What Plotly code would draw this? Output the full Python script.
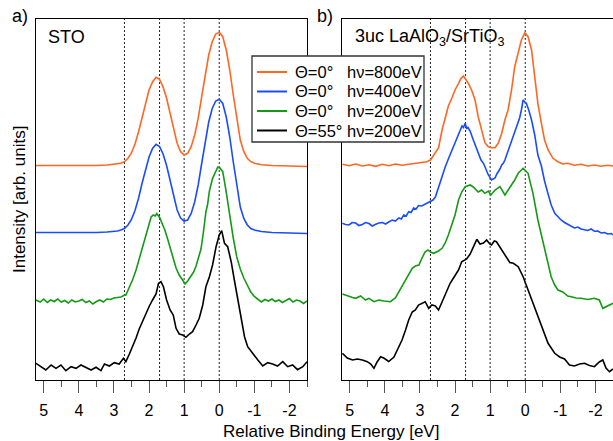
import plotly.graph_objects as go

# ---------------- data ----------------
# Panel a) STO
sto_800_E = [5.22, 4.5, 4.0, 3.5, 3.2, 3.0, 2.9, 2.8, 2.7, 2.6, 2.5, 2.4, 2.3, 2.2, 2.1, 2.0, 1.9, 1.8, 1.7, 1.6,
             1.5, 1.4, 1.3, 1.2, 1.1, 1.0, 0.9, 0.8, 0.7, 0.6, 0.5, 0.4, 0.3, 0.2, 0.1, 0.0, -0.1, -0.2, -0.3, -0.4,
             -0.5, -0.6, -0.7, -0.8, -0.9, -1.0, -1.2, -1.5, -2.0, -2.5]
sto_800_I = [214.5, 214.5, 214, 214.5, 215, 215.5, 216, 216.7, 218.3, 221.7, 227, 236, 248, 263, 277, 290, 298, 302.7,
             300.7, 293, 281.7, 266.7, 250, 236.7, 228.3, 225, 226.7, 233.3, 245, 261.7, 283.3, 305, 325, 338.3, 346,
             347.7, 343.3, 330, 310, 285, 260, 240, 228.3, 221.7, 218.3, 216.7, 215.3, 214.5, 214, 213.5]

sto_400_E = [5.22, 4.5, 4.0, 3.5, 3.2, 3.0, 2.9, 2.8, 2.7, 2.6, 2.5, 2.4, 2.3, 2.2, 2.1, 2.0, 1.9, 1.8, 1.7, 1.6,
             1.5, 1.4, 1.3, 1.2, 1.1, 1.0, 0.9, 0.8, 0.7, 0.6, 0.5, 0.4, 0.3, 0.2, 0.1, 0.0, -0.1, -0.2, -0.3, -0.4,
             -0.5, -0.6, -0.7, -0.8, -0.9, -1.0, -1.2, -1.5, -2.0, -2.5]
sto_400_I = [147.5, 147.5, 147, 147.5, 148, 148.5, 149, 150, 151.5, 155, 160.5, 169.5, 181.5, 196.5, 210.5, 223, 231.5,
             235.7, 233.5, 226, 214.5, 199.5, 183, 170, 162, 159, 160, 166.5, 178, 195, 216.5, 238, 258, 271.5, 279,
             280.7, 276.5, 263, 243, 218, 193, 173, 161.5, 155, 151.5, 150, 148.5, 147.5, 147, 146.5]

sto_200_E = [5.22, 5.1, 5.0, 4.9, 4.8, 4.7, 4.6, 4.5, 4.4, 4.3, 4.2, 4.1, 4.0, 3.9, 3.8, 3.7, 3.6, 3.5, 3.4, 3.3,
             3.2, 3.1, 3.0, 2.9, 2.8, 2.72, 2.66, 2.56, 2.47, 2.37, 2.28, 2.18, 2.09, 1.99, 1.94, 1.88, 1.82, 1.78,
             1.73, 1.69, 1.61, 1.55, 1.47, 1.40, 1.33, 1.23, 1.14, 1.04, 0.97, 0.90, 0.80, 0.73, 0.66, 0.59, 0.52,
             0.45, 0.38, 0.33, 0.28, 0.19, 0.09, 0.04, -0.02, -0.10, -0.19, -0.3, -0.4, -0.5, -0.6, -0.7, -0.8, -0.9,
             -1.0, -1.1, -1.2, -1.3, -1.4, -1.5, -1.6, -1.7, -1.8, -1.9, -2.0, -2.1, -2.2, -2.3, -2.4, -2.5]
sto_200_I = [80, 78, 81, 77.5, 80, 78.5, 81, 78, 79.5, 77, 80, 78, 79, 80.5, 77.5, 79, 76, 78.5, 80, 78,
             81, 80.5, 82, 82.5, 83, 84.5, 85, 93, 100, 110, 121, 134, 147, 157, 163, 165, 164, 166.5,
             164, 162, 155, 150, 141, 132, 123, 112, 105, 100, 96, 99, 105, 108, 114, 122, 131,
             148, 168, 176, 189, 201.7, 208.3, 213, 212, 208.3, 190, 164, 142, 123, 111, 102, 95, 88,
             83.5, 81, 78, 80.5, 79, 81, 78.5, 80, 77.5, 79.5, 81.5, 78, 80, 79, 76.5, 79]

sto_55_E = [5.22, 5.08, 4.94, 4.79, 4.65, 4.51, 4.37, 4.22, 4.08, 3.94, 3.80, 3.65, 3.51, 3.37, 3.27, 3.13, 2.99,
            2.85, 2.73, 2.66, 2.56, 2.47, 2.37, 2.28, 2.18, 2.09, 1.99, 1.90, 1.80, 1.73, 1.66, 1.59, 1.50, 1.40,
            1.31, 1.23, 1.14, 1.04, 0.95, 0.85, 0.76, 0.66, 0.57, 0.47, 0.38, 0.28, 0.19, 0.09, 0.00, -0.07, -0.15,
            -0.24, -0.34, -0.43, -0.53, -0.62, -0.72, -0.81, -0.91, -1.00, -1.10, -1.24, -1.38, -1.52, -1.66, -1.81,
            -1.95, -2.09, -2.23, -2.38, -2.50]
sto_55_I = [16.7, 13.3, 10, 15, 11.7, 15, 9.3, 13.3, 11.7, 15, 12.7, 10, 12.7, 9.3, 16, 14, 17.3,
            16, 21.7, 18.3, 26, 33, 42, 51, 59, 67, 74, 80, 86, 96.7, 98.3, 93.3, 80, 70,
            65, 51.7, 46, 45, 42.7, 46, 48.3, 55, 61.7, 75, 93.3, 103.3, 115, 133.3, 145, 149.3, 136.7,
            133.3, 118.3, 100, 80, 60, 43.3, 33.3, 28.3, 25, 20, 14, 17.3, 16, 14, 18.3,
            13.3, 15, 10.3, 13.3, 18.3]

# Panel b) 3uc LaAlO3/SrTiO3
lao_800_E = [5.21, 5.02, 4.83, 4.64, 4.45, 4.26, 4.07, 3.89, 3.70, 3.51, 3.32, 3.13, 2.94, 2.80, 2.70, 2.56, 2.47,
             2.37, 2.28, 2.19, 2.09, 2.00, 1.90, 1.83, 1.76, 1.69, 1.62, 1.52, 1.43, 1.34, 1.24, 1.15, 1.05, 0.96,
             0.86, 0.77, 0.67, 0.58, 0.49, 0.39, 0.30, 0.20, 0.11, 0.01, -0.08, -0.18, -0.27, -0.36, -0.46, -0.55,
             -0.65, -0.79, -0.93, -1.07, -1.21, -1.40, -1.59, -1.78, -1.97, -2.16, -2.35, -2.50]
lao_800_I = [215.7, 214.3, 216, 214, 215.3, 213.7, 215.7, 214.3, 216, 214.7, 215.7, 216.7, 217.3, 218.3, 220, 226.7, 232,
             250, 262, 274, 282, 290, 296.7, 301.7, 304, 300, 296.7, 289.3, 280, 263.3, 250, 237.3, 233.3, 232.3,
             232.3, 236.7, 246.7, 260, 270, 290, 313.3, 326.7, 340, 347.3, 343.3, 330, 303.3, 276.7, 256.7, 240,
             230, 221.7, 218.3, 216, 216.7, 214.7, 215.7, 214, 215, 213.7, 214.7, 214]

lao_400_E = [5.21, 5.12, 5.02, 4.93, 4.83, 4.74, 4.64, 4.55, 4.45, 4.36, 4.26, 4.17, 4.07, 3.98, 3.89, 3.79, 3.70,
             3.60, 3.53, 3.46, 3.39, 3.32, 3.25, 3.18, 3.11, 3.04, 2.95, 2.85, 2.78, 2.70, 2.63, 2.56, 2.47, 2.37,
             2.28, 2.19, 2.09, 1.95, 1.85, 1.80, 1.76, 1.71, 1.67, 1.64, 1.57, 1.48, 1.41, 1.34, 1.26, 1.19, 1.12,
             1.05, 0.96, 0.91, 0.86, 0.81, 0.77, 0.72, 0.67, 0.62, 0.58, 0.53, 0.49, 0.44, 0.39, 0.32, 0.25, 0.16,
             0.11, 0.06, 0.01, -0.03, -0.10, -0.18, -0.27, -0.36, -0.46, -0.55, -0.65, -0.74, -0.84, -0.93, -1.02,
             -1.12, -1.21, -1.30, -1.40, -1.50, -1.59, -1.69, -1.78, -1.88, -1.97, -2.07, -2.16, -2.26, -2.35, -2.45,
             -2.50]
lao_400_I = [156.7, 155.5, 155, 157.5, 157, 154.5, 155.5, 157.5, 156.5, 154, 155.7, 157, 157.5, 156, 158, 160, 159,
             162, 161, 165, 164, 168.3, 167.5, 172, 171, 174.5, 174, 176, 177.5, 178.5, 180, 183, 193, 202,
             213, 221, 230, 243, 250, 254, 252.5, 256.7, 251, 253, 249, 240, 234, 226.7, 220, 216.7, 210,
             205, 200, 201, 202, 206, 208, 211, 215, 217, 220, 225, 230, 233, 240, 247, 253, 262,
             270, 280, 278, 276.7, 270, 260, 245, 225, 214, 199, 186, 175, 166.7, 163, 160,
             157.5, 156, 154, 152, 153, 151, 150.5, 149.5, 151, 148.7, 149, 147, 147.5, 146, 146.5,
             145]

lao_200_E = [5.21, 5.07, 4.92, 4.83, 4.69, 4.55, 4.45, 4.31, 4.17, 4.03, 3.84, 3.70, 3.60, 3.51, 3.41, 3.32, 3.22,
             3.13, 3.03, 2.94, 2.85, 2.77, 2.70, 2.61, 2.47, 2.37, 2.28, 2.19, 2.09, 2.00, 1.90, 1.81, 1.71, 1.57,
             1.48, 1.34, 1.24, 1.15, 1.05, 0.98, 0.86, 0.72, 0.58, 0.44, 0.30, 0.20, 0.06, -0.08, -0.22, -0.36,
             -0.46, -0.60, -0.74, -0.84, -0.93, -1.07, -1.21, -1.31, -1.45, -1.59, -1.78, -1.97, -2.11, -2.21, -2.35,
             -2.50]
lao_200_I = [86, 84, 82.5, 81.7, 84, 80, 81.7, 78.3, 80, 79, 78.3, 82, 88.3, 93, 100, 106, 111.7,
             114, 115, 122, 128.3, 130, 128, 126.7, 129, 131.7, 137, 145, 155, 165, 180, 188, 193.3, 195,
             193, 188, 190, 186.7, 189, 185, 190, 193.3, 185, 192, 200, 206.7, 211.7, 206.7, 186.7, 160,
             145, 126.7, 103, 95, 90, 88, 84, 83.3, 82, 81.7, 80.5, 81.7, 80, 71.7, 74,
             76.7]

lao_55_E = [5.21, 5.07, 4.92, 4.78, 4.64, 4.50, 4.40, 4.31, 4.22, 4.12, 4.03, 3.89, 3.74, 3.60, 3.51, 3.41, 3.32,
            3.22, 3.13, 3.04, 2.94, 2.85, 2.75, 2.66, 2.56, 2.47, 2.37, 2.28, 2.14, 1.99, 1.90, 1.81, 1.67, 1.57,
            1.48, 1.38, 1.29, 1.19, 1.10, 1.01, 0.96, 0.88, 0.82, 0.72, 0.63, 0.53, 0.44, 0.34, 0.20, 0.06, -0.08,
            -0.27, -0.46, -0.65, -0.84, -0.98, -1.12, -1.26, -1.40, -1.55, -1.69, -1.83, -1.97, -2.11, -2.21, -2.30,
            -2.40, -2.50]
lao_55_I = [26.7, 22, 20, 21, 20, 18.3, 16, 11.7, 18, 23.3, 22, 18.5, 23, 33, 40, 50, 60,
            68, 70, 75, 77, 78.3, 71.7, 75, 74, 70, 78, 86, 96.7, 105, 110, 118.3, 121, 126,
            133.3, 140.7, 136, 137, 140, 136, 135, 139, 138.3, 133, 127, 121.7, 117.5, 116.7, 113.3, 103.3, 90,
            73.3, 53.3, 36.7, 26.7, 23, 21, 15, 14, 16, 16.7, 14.5, 13.3, 18, 20, 12,
            8.3, 11]

legend_angle = ["Θ=0°", "Θ=0°", "Θ=0°", "Θ=55°"]
legend_energy = ["hν=800eV", "hν=400eV", "hν=200eV", "hν=200eV"]
line_colors = ["#ff6622", "#1a4cff", "#159a15", "#000000"]
marker_energies = [2.7, 1.7, 1.0, 0.0]
tick_vals = [5, 4, 3, 2, 1, 0, -1, -2]
tick_text = ["5", "4", "3", "2", "1", "0", "-1", "-2"]
x_range = [5.22, -2.5]
y_range = [0, 361]

# ---------------- figure ----------------
FONT = "Liberation Sans, Arial, sans-serif"
W, H = 613, 441
ML, MR, MT, MB = 36, 0, 19, 61
PW, PH = W - ML - MR, H - MT - MB


def px_x(p):
    return (p - ML) / PW


def px_y(p):
    return 1 - (p - MT) / PH


fig = go.Figure()

panel_a = [(sto_800_E, sto_800_I), (sto_400_E, sto_400_I), (sto_200_E, sto_200_I), (sto_55_E, sto_55_I)]
panel_b = [(lao_800_E, lao_800_I), (lao_400_E, lao_400_I), (lao_200_E, lao_200_I), (lao_55_E, lao_55_I)]

for k, (E, I) in enumerate(panel_a):
    fig.add_trace(go.Scatter(x=E, y=I, mode="lines", name=legend_angle[k] + " " + legend_energy[k],
                             line=dict(color=line_colors[k], width=1.6), xaxis="x", yaxis="y",
                             showlegend=False))
for k, (E, I) in enumerate(panel_b):
    fig.add_trace(go.Scatter(x=E, y=I, mode="lines", name=legend_angle[k] + " " + legend_energy[k],
                             line=dict(color=line_colors[k], width=1.6), xaxis="x2", yaxis="y2",
                             showlegend=False))

for xr, yr in (("x", "y"), ("x2", "y2")):
    for e in marker_energies:
        fig.add_shape(type="line", xref=xr, yref=yr + " domain", x0=e, x1=e, y0=0, y1=1,
                      line=dict(color="#222222", width=1, dash="2px,2px"), layer="below")

# legend box (drawn by hand to match the compact row spacing)
fig.add_shape(type="rect", xref="paper", yref="paper", x0=px_x(252), x1=px_x(424), y0=px_y(142), y1=px_y(56),
              fillcolor="white", line=dict(color="#333333", width=1.3), layer="above")
row_y = [72, 91.5, 111, 130.5]
for k in range(4):
    fig.add_shape(type="line", xref="paper", yref="paper", x0=px_x(257), x1=px_x(287),
                  y0=px_y(row_y[k]), y1=px_y(row_y[k]), line=dict(color=line_colors[k], width=2),
                  layer="above")
    fig.add_annotation(text=legend_angle[k], x=px_x(293), y=px_y(row_y[k]), xref="paper", yref="paper",
                       xanchor="left", yanchor="middle", showarrow=False,
                       font=dict(family=FONT, size=16.5, color="black"))
    fig.add_annotation(text=legend_energy[k], x=px_x(345), y=px_y(row_y[k]), xref="paper", yref="paper",
                       xanchor="left", yanchor="middle", showarrow=False,
                       font=dict(family=FONT, size=16.5, color="black"))

axis_common = dict(range=x_range, tickmode="array", tickvals=tick_vals, ticktext=tick_text,
                   ticks="outside", ticklen=12, tickwidth=1.3, tickcolor="#555555",
                   showline=True, linecolor="black", linewidth=1.3, showgrid=False, zeroline=False,
                   tickfont=dict(family=FONT, size=16, color="black"), ticklabelstandoff=4,
                   minor=dict(dtick=0.5, tick0=0, ticks="outside", ticklen=6, tickwidth=1.3,
                              tickcolor="#555555", showgrid=False))
yaxis_common = dict(range=y_range, showticklabels=False, ticks="", showgrid=False, zeroline=False,
                    showline=True, linecolor="black", linewidth=1.3)

fig.update_layout(
    width=W, height=H,
    margin=dict(l=ML, r=MR, t=MT, b=MB),
    paper_bgcolor="white", plot_bgcolor="white",
    font=dict(family=FONT, size=16, color="black"),
    xaxis=dict(domain=[0, 271 / PW], anchor="y", mirror=True, **axis_common),
    yaxis=dict(domain=[0, 1], anchor="x", mirror=True, **yaxis_common),
    xaxis2=dict(domain=[306 / PW, 1], anchor="y2", mirror=True, **axis_common),
    yaxis2=dict(domain=[0, 1], anchor="x2", mirror=False, **yaxis_common),
    showlegend=False,
)

ann = [
    dict(text="a)", x=px_x(20), y=px_y(16), size=18),
    dict(text="b)", x=px_x(325), y=px_y(16), size=18),
    dict(text="STO", x=px_x(66), y=px_y(37), size=18),
    dict(text="Relative Binding Energy [eV]", x=px_x(331), y=px_y(431), size=17),
]
for a in ann:
    fig.add_annotation(text=a["text"], x=a["x"], y=a["y"], xref="paper", yref="paper",
                       xanchor="center", yanchor="middle", showarrow=False,
                       font=dict(family=FONT, size=a["size"], color="black"))
fig.add_annotation(text="3uc LaAlO<sub>3</sub>/SrTiO<sub>3</sub>", x=px_x(353), y=px_y(38),
                   xref="paper", yref="paper", xanchor="left", yanchor="middle", showarrow=False,
                   font=dict(family=FONT, size=18, color="black"))
fig.add_annotation(text="Intensity [arb. units]", x=px_x(19), y=px_y(200),
                   xref="paper", yref="paper", xanchor="center", yanchor="middle", showarrow=False,
                   textangle=-90, font=dict(family=FONT, size=17, color="black"))

fig.write_html("out.html", config={"displayModeBar": False},
               post_script="document.body.style.margin='0';document.body.style.overflow='hidden';")
